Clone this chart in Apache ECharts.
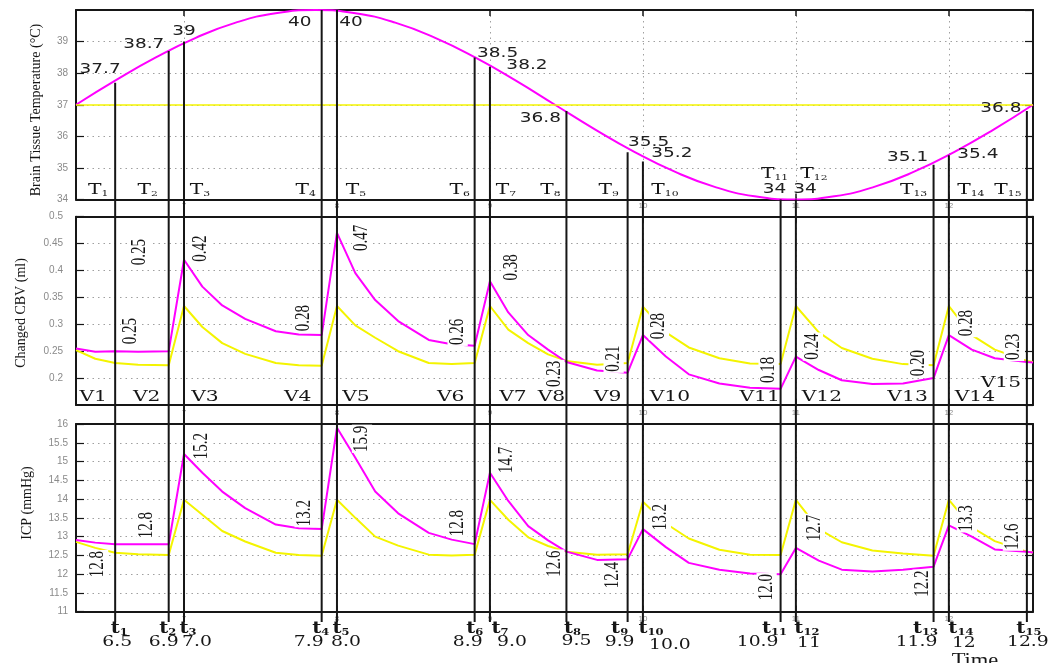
<!DOCTYPE html>
<html>
<head>
<meta charset="utf-8">
<script src="https://cdn.jsdelivr.net/npm/echarts@6/dist/echarts.min.js"></script>
<style>
  html, body { margin: 0; padding: 0; background: #ffffff; }
  #chart { width: 1049px; height: 663px; }
</style>
</head>
<body>
<div id="chart"></div>
<script>
// ---------------- data ----------------
// Event markers t1..t15 (hours) and the values recorded at each of them
const markerTime = [6.55, 6.9, 7.0, 7.9, 8.0, 8.9, 9.0, 9.5, 9.9, 10.0, 10.9, 11.0, 11.9, 12.0, 12.51];
const markerTimeLabels = ['6.5', '6.9', '7.0', '7.9', '8.0', '8.9', '9.0', '9.5', '9.9', '10.0', '10.9', '11', '11.9', '12', '12.9'];
const markerTemp = [37.7, 38.7, 39, 40, 40, 38.5, 38.2, 36.8, 35.5, 35.2, 34, 34, 35.1, 35.4, 36.8];
const markerCbv = [0.25, 0.25, 0.42, 0.28, 0.47, 0.26, 0.38, 0.23, 0.21, 0.28, 0.18, 0.24, 0.20, 0.28, 0.23];
const markerIcp = [12.8, 12.8, 15.2, 13.2, 15.9, 12.8, 14.7, 12.6, 12.4, 13.2, 12.0, 12.7, 12.2, 13.3, 12.6];

// Brain tissue temperature trace (°C)
const tempTime = [6.294, 6.555, 6.816, 7.077, 7.338, 7.599, 7.86, 8.121, 8.381, 8.642, 8.903, 9.164, 9.425,
                  9.686, 9.947, 10.208, 10.469, 10.73, 10.991, 11.251, 11.512, 11.773, 12.034, 12.295, 12.55];
const tempValue = [37.0, 37.78, 38.5, 39.12, 39.6, 39.9, 40.0, 39.9, 39.6, 39.12, 38.5, 37.78, 37.0,
                   36.22, 35.5, 34.88, 34.4, 34.1, 34.0, 34.1, 34.4, 34.88, 35.5, 36.22, 37.0];
const normalTemp = 37;

// Sample times shared by the CBV and ICP traces
const sampleTime = [6.294, 6.42, 6.55, 6.70, 6.9, 7.0, 7.12, 7.25, 7.4, 7.6, 7.75, 7.9, 8.0, 8.12, 8.25,
                    8.4, 8.6, 8.75, 8.9, 9.0, 9.12, 9.25, 9.38, 9.5, 9.7, 9.9, 10.0, 10.15, 10.3, 10.5,
                    10.7, 10.9, 11.0, 11.15, 11.3, 11.5, 11.7, 11.9, 12.0, 12.15, 12.3, 12.51, 12.55];
// Changed CBV (ml)
const cbvMagenta = [0.255, 0.249, 0.25, 0.249, 0.25, 0.42, 0.37, 0.335, 0.31, 0.287, 0.281, 0.28, 0.47, 0.395, 0.345,
                    0.306, 0.271, 0.263, 0.26, 0.38, 0.322, 0.28, 0.253, 0.23, 0.214, 0.21, 0.28, 0.24, 0.207, 0.19,
                    0.182, 0.18, 0.24, 0.215, 0.196, 0.189, 0.19, 0.20, 0.28, 0.253, 0.237, 0.23, 0.229];
const cbvYellow = [0.252, 0.236, 0.228, 0.225, 0.224, 0.334, 0.295, 0.265, 0.245, 0.228, 0.224, 0.223, 0.334, 0.298, 0.275,
                   0.25, 0.228, 0.226, 0.228, 0.334, 0.29, 0.265, 0.244, 0.232, 0.225, 0.228, 0.333, 0.285, 0.257, 0.237,
                   0.227, 0.226, 0.334, 0.285, 0.256, 0.236, 0.226, 0.224, 0.334, 0.28, 0.253, 0.232, 0.23];
// ICP (mmHg)
const icpMagenta = [12.91, 12.84, 12.8, 12.8, 12.8, 15.2, 14.7, 14.2, 13.76, 13.32, 13.22, 13.2, 15.9, 15.1, 14.2,
                    13.62, 13.1, 12.92, 12.8, 14.7, 13.95, 13.28, 12.9, 12.6, 12.38, 12.4, 13.2, 12.72, 12.3, 12.12,
                    12.02, 12.0, 12.7, 12.36, 12.12, 12.07, 12.12, 12.2, 13.3, 13.0, 12.66, 12.6, 12.58];
const icpYellow = [12.86, 12.7, 12.57, 12.53, 12.51, 13.98, 13.58, 13.15, 12.87, 12.57, 12.51, 12.49, 13.98, 13.5, 13.0,
                   12.76, 12.52, 12.5, 12.52, 13.98, 13.45, 12.98, 12.75, 12.6, 12.52, 12.53, 13.93, 13.35, 12.95, 12.65,
                   12.52, 12.51, 13.98, 13.2, 12.85, 12.63, 12.55, 12.49, 13.98, 13.25, 12.88, 12.6, 12.58];

// ---------------- layout ----------------
const T_MIN = 6.294, T_MAX = 12.55;
const PLOT_LEFT = 76, PLOT_RIGHT = 16;
const PANELS = [
  { top: 10, height: 189.5, yMin: 34, yMax: 40, yStep: 1, labelMargin: 8, xLabelMargin: 2 },
  { top: 216.7, height: 188.3, yMin: 0.15, yMax: 0.5, yStep: 0.05, labelMargin: 13, xLabelMargin: 4 },
  { top: 424, height: 187.7, yMin: 11, yMax: 16, yStep: 0.5, labelMargin: 8, xLabelMargin: 3 }
];
const MARKER_LINE_BOTTOM = 622;   // marker lines run down past the lowest panel

// label offsets (pixels) from each marker anchor
const tempLabelDX = [-15, -25, 0, -22, 14, 23, 37, -26, 21, 29, -6, 9, -26, 29, -26];
const tempLabelDY = [-13, -7, -10, 12, 12, -4, -1, 7, -10, -8, -10, -10, -7, -1, -3];
const tNameDX = [-17, -21, 16, -16, 19, -15, 16, -16, -19, 22, -6, 18, -20, 22, -19];
const tNameDY = [-9, -9, -9, -9, -9, -9, -9, -9, -9, -9, -25, -25, -9, -9, -9];
const vNameDX = [-22, -22, 21, -24, 19, -24, 23, -15, -20, 27, -21, 26, -26, 26, -26];
const vNameDY = [-8, -8, -8, -8, -8, -8, -8, -8, -8, -8, -8, -8, -8, -8, -22];
const cbvLabelDX = [16, -29, 17, -18, 25, -17, 22, -12, -14, 16, -12, 17, -15, 18, -13];
const cbvLabelDY = [-20, -99, -11, -17, 5, -14, -14, 12, -14, -9, -19, -10, -15, -12, -15];
const icpLabelDX = [-17, -22, 18, -17, 25, -17, 17, -12, -15, 18, -14, 19, -11, 18, -14];
const icpLabelDY = [20, -19, -8, -16, 11, -21, -13, 12, 16, -12, 13, -20, 17, -7, -15];
const tSubDX = [4, -1, 4, -1, 4, 0, 10, 6, -8, 8, -6, 11, -8, 12, 2];
const tValDX = [2, -5, 13, -13, 9, -7, 22, 10, -8, 27, -23, 13, -17, 15, 1];
const tValDY = [30, 30, 30, 30, 30, 30, 30, 29, 30, 33, 30, 31, 30, 31, 30];

// ---------------- styles ----------------
const MAGENTA = '#ff00ff';
const YELLOW = '#f4f400';
const INK = '#161616';
const GRID_DOTS = { color: '#a0a0a0', width: 1, type: [1.5, 4] };

const zip = (xs, ys) => xs.map((x, i) => [x, ys[i]]);

function xAxesFor(g) {
  const p = PANELS[g];
  const common = {
    type: 'value', gridIndex: g, min: T_MIN, max: T_MAX, splitNumber: 6,
    axisLine: { show: true, onZero: false, lineStyle: { color: INK, width: 2 } },
    axisTick: { show: true, inside: true, length: 6, lineStyle: { color: INK, width: 1.5 } }
  };
  return [
    Object.assign({}, common, {
      position: 'bottom',
      splitLine: { show: true, lineStyle: GRID_DOTS },
      axisLabel: { show: true, margin: p.xLabelMargin, fontSize: 8, color: '#8a8a8a',
                   fontFamily: 'Liberation Sans', showMinLabel: false, showMaxLabel: false }
    }),
    Object.assign({}, common, { position: 'top', splitLine: { show: false }, axisLabel: { show: false } })
  ];
}

function yAxesFor(g, showMin, showMax) {
  const p = PANELS[g];
  const common = {
    type: 'value', gridIndex: g, min: p.yMin, max: p.yMax, interval: p.yStep,
    axisLine: { show: true, onZero: false, lineStyle: { color: INK, width: 2 } },
    axisTick: { show: true, inside: true, length: 8, lineStyle: { color: INK, width: 1.2 } }
  };
  return [
    Object.assign({}, common, {
      position: 'left',
      splitLine: { show: true, lineStyle: GRID_DOTS },
      axisLabel: { show: true, margin: p.labelMargin, fontSize: 10, color: '#8a8a8a',
                   fontFamily: 'Liberation Sans', showMinLabel: showMin, showMaxLabel: showMax }
    }),
    Object.assign({}, common, { position: 'right', splitLine: { show: false }, axisLabel: { show: false } })
  ];
}

function lineSeries(g, data, color, extra) {
  return Object.assign({
    type: 'line', xAxisIndex: g * 2, yAxisIndex: g * 2, data: data,
    showSymbol: false, symbol: 'none', silent: true, z: 2,
    lineStyle: { color: color, width: 2 }
  }, extra || {});
}

// text annotations anchored on data coordinates, shifted by pixel offsets
function textSeries(g, points, texts, dx, dy, look) {
  return {
    type: 'custom', coordinateSystem: 'cartesian2d', xAxisIndex: g * 2, yAxisIndex: g * 2,
    clip: false, silent: true, z: look.z || 3,
    data: points, encode: { x: 0, y: 1 },
    renderItem: function (params, api) {
      const i = params.dataIndex;
      const p = api.coord([api.value(0), api.value(1)]);
      return {
        type: 'text',
        x: p[0] + dx[i], y: p[1] + dy[i],
        rotation: look.rotation || 0,
        scaleX: look.scaleX || 1, scaleY: look.scaleY || 1,
        style: Object.assign({
          text: texts[i], x: 0, y: 0,
          align: 'center', verticalAlign: 'middle',
          textAlign: 'center', textVerticalAlign: 'middle'
        }, look.style)
      };
    }
  };
}

const tempTexts = markerTemp.map(v => String(v));
const cbvTexts = markerCbv.map(v => v.toFixed(2));
const icpTexts = markerIcp.map(v => v.toFixed(1));
const tNames = markerTime.map((_, i) => '{b|T}{s|' + (i + 1) + '}');
const vNames = markerTime.map((_, i) => 'V' + (i + 1));
const tSubNames = markerTime.map((_, i) => '{b|t}{s|' + (i + 1) + '}');

const rotatedLook = {
  rotation: Math.PI / 2, scaleY: 1.35, z: 3,
  style: { fontFamily: 'Liberation Serif', fontSize: 15, fill: INK, backgroundColor: '#ffffff', padding: [0, 1] }
};

const option = {
  animation: false,
  backgroundColor: '#ffffff',
  textStyle: { fontFamily: 'Liberation Serif' },
  grid: PANELS.map(p => ({ left: PLOT_LEFT, right: PLOT_RIGHT, top: p.top, height: p.height, containLabel: false })),
  xAxis: [].concat(xAxesFor(0), xAxesFor(1), xAxesFor(2)),
  yAxis: [].concat(yAxesFor(0, true, false), yAxesFor(1, false, true), yAxesFor(2, true, true)),
  graphic: [
    { type: 'text', x: 36, y: 110, rotation: Math.PI / 2, silent: true,
      style: { text: 'Brain Tissue Temperature (°C)', fontFamily: 'Liberation Serif', fontSize: 14, fill: INK,
               align: 'center', verticalAlign: 'middle', textAlign: 'center', textVerticalAlign: 'middle' } },
    { type: 'text', x: 21, y: 313, rotation: Math.PI / 2, silent: true,
      style: { text: 'Changed CBV (ml)', fontFamily: 'Liberation Serif', fontSize: 14, fill: INK,
               align: 'center', verticalAlign: 'middle', textAlign: 'center', textVerticalAlign: 'middle' } },
    { type: 'text', x: 27, y: 503, rotation: Math.PI / 2, silent: true,
      style: { text: 'ICP (mmHg)', fontFamily: 'Liberation Serif', fontSize: 14, fill: INK,
               align: 'center', verticalAlign: 'middle', textAlign: 'center', textVerticalAlign: 'middle' } },
    { type: 'text', x: 975, y: 661, silent: true, scaleX: 1.25,
      style: { text: 'Time', fontFamily: 'Liberation Serif', fontSize: 18, fill: INK,
               align: 'center', verticalAlign: 'middle', textAlign: 'center', textVerticalAlign: 'middle' } }
  ],
  series: [
    // temperature panel
    lineSeries(0, zip(tempTime, tempValue), MAGENTA, {
      smooth: true,
      markLine: {
        silent: true, symbol: 'none', label: { show: false },
        lineStyle: { color: YELLOW, width: 1.5, type: 'solid' },
        data: [{ yAxis: normalTemp }]
      }
    }),
    // CBV panel
    lineSeries(1, zip(sampleTime, cbvYellow), YELLOW),
    lineSeries(1, zip(sampleTime, cbvMagenta), MAGENTA),
    // ICP panel
    lineSeries(2, zip(sampleTime, icpYellow), YELLOW),
    lineSeries(2, zip(sampleTime, icpMagenta), MAGENTA),

    // marker stems: from the temperature value down through all panels
    {
      type: 'custom', coordinateSystem: 'cartesian2d', xAxisIndex: 0, yAxisIndex: 0,
      clip: false, silent: true, z: 5,
      data: zip(markerTime, markerTemp), encode: { x: 0, y: 1 },
      renderItem: function (params, api) {
        const top = api.coord([api.value(0), api.value(1)]);
        return {
          type: 'line',
          shape: { x1: top[0], y1: top[1], x2: top[0], y2: MARKER_LINE_BOTTOM },
          style: { stroke: INK, lineWidth: 2 }
        };
      }
    },

    // temperature values at the markers
    textSeries(0, zip(markerTime, markerTemp), tempTexts, tempLabelDX, tempLabelDY, {
      scaleX: 1.32, z: 6,
      style: { fontFamily: 'DejaVu Sans', fontSize: 14, fill: '#202020' }
    }),
    // T1..T15 names along the bottom of the temperature panel
    textSeries(0, markerTime.map(t => [t, PANELS[0].yMin]), tNames, tNameDX, tNameDY, {
      scaleX: 1.35, z: 6,
      style: {
        fill: INK,
        rich: {
          b: { fontFamily: 'DejaVu Serif', fontSize: 15, fill: INK, verticalAlign: 'bottom' },
          s: { fontFamily: 'DejaVu Serif', fontSize: 8, fill: INK, verticalAlign: 'bottom' }
        }
      }
    }),
    // CBV values (rotated)
    textSeries(1, zip(markerTime, markerCbv), cbvTexts, cbvLabelDX, cbvLabelDY, rotatedLook),
    // V1..V15 names along the bottom of the CBV panel
    textSeries(1, markerTime.map(t => [t, PANELS[1].yMin]), vNames, vNameDX, vNameDY, {
      scaleX: 1.35, z: 6,
      style: { fontFamily: 'DejaVu Serif', fontSize: 15, fill: INK }
    }),
    // ICP values (rotated)
    textSeries(2, zip(markerTime, markerIcp), icpTexts, icpLabelDX, icpLabelDY, rotatedLook),
    // t1..t15 names and times under the ICP panel
    textSeries(2, markerTime.map(t => [t, PANELS[2].yMin]), tSubNames, tSubDX, markerTime.map(() => 17), {
      scaleX: 1.15, z: 6,
      style: {
        fill: INK,
        rich: {
          b: { fontFamily: 'DejaVu Serif', fontSize: 17, fontWeight: 'bold', fill: INK, verticalAlign: 'bottom' },
          s: { fontFamily: 'DejaVu Serif', fontSize: 10, fontWeight: 'bold', fill: INK, verticalAlign: 'bottom' }
        }
      }
    }),
    textSeries(2, markerTime.map(t => [t, PANELS[2].yMin]), markerTimeLabels, tValDX, tValDY, {
      scaleX: 1.25, z: 6,
      style: { fontFamily: 'DejaVu Serif', fontSize: 15, fill: INK }
    })
  ]
};

const chart = echarts.init(document.getElementById('chart'), null, { renderer: 'canvas' });
chart.setOption(option);
</script>
</body>
</html>
